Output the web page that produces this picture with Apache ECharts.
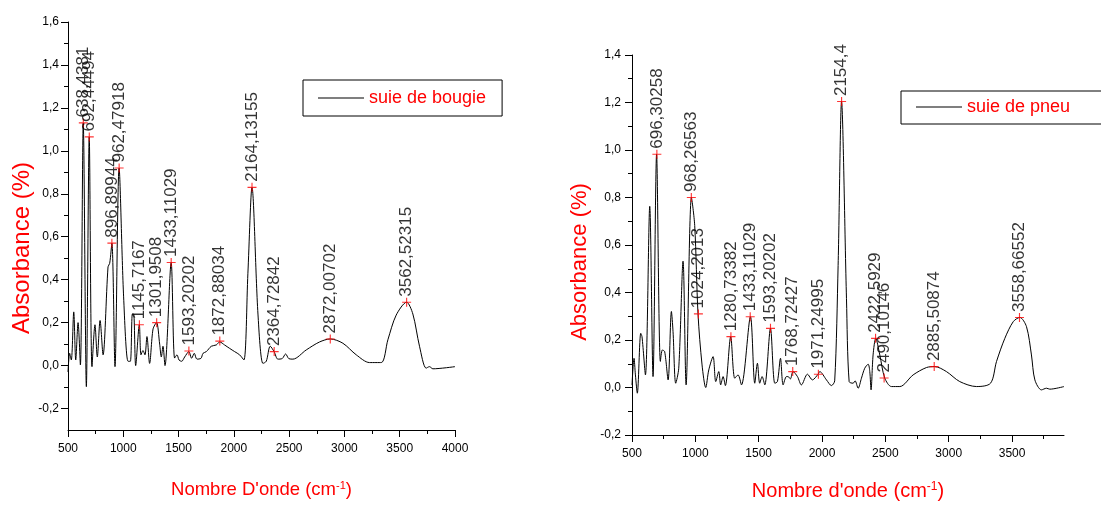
<!DOCTYPE html>
<html><head><meta charset="utf-8">
<script src="https://cdn.jsdelivr.net/npm/echarts@6/dist/echarts.min.js"></script>
<style>html,body{margin:0;padding:0;background:#fff}#c{width:1101px;height:506px}</style>
</head><body><div id="c"></div>
<script>
// ---------- Left spectrum: suie de bougie ----------
const leftWavenumber = [500,515,530,552,570,591,612,638,666,692,717,744,765,790,817,862,877,897,925,962,1003,1043,1064,1082,1094,1112,1145,1160,1178,1196,1214,1238,1269,1301,1329,1344,1359,1377,1433,1464,1486,1504,1528,1555,1593,1618,1642,1666,1703,1721,1751,1796,1841,1872,1916,1962,2007,2052,2091,2127,2164,2218,2263,2293,2329,2364,2398,2438,2468,2498,2534,2655,2775,2872,2986,3107,3227,3333,3393,3468,3562,3619,3679,3739,3769,3800,4000];
const leftAbsorbance = [-0.03,0.057,0.026,0.25,0.026,0.2,0.003,1.13,-0.098,1.065,-0.005,0.19,0.04,0.21,0.05,0.46,0.476,0.57,-0.005,0.92,0.32,0.02,0.02,0.24,0.24,0.0,0.19,0.05,0.07,0.05,0.135,0.01,0.17,0.2,0.1,0.04,0.09,0.0,0.48,0.035,0.05,0.026,0.02,0.04,0.065,0.034,0.057,0.03,0.034,0.057,0.065,0.09,0.096,0.11,0.096,0.08,0.065,0.05,0.026,0.43,0.83,0.24,0.01,0.02,0.09,0.065,0.03,0.033,0.054,0.032,0.03,0.073,0.11,0.124,0.104,0.05,0.014,0.014,0.12,0.235,0.295,0.24,0.09,-0.012,-0.005,-0.015,-0.005];
const leftPeakX = [638.4381,692.44494,896.89944,962.47918,1145.7167,1301.9508,1433.11029,1593.20202,1872.88034,2164.13155,2364.72842,2872.00702,3562.52315];
const leftPeakY = [1.13,1.065,0.57,0.92,0.19,0.2,0.48,0.068,0.114,0.83,0.065,0.124,0.295];
const leftPeakLabels = ['638,4381','692,44494','896,89944','962,47918','1145,7167','1301,9508','1433,11029','1593,20202','1872,88034','2164,13155','2364,72842','2872,00702','3562,52315'];

// ---------- Right spectrum: suie de pneu ----------
const rightWavenumber = [500,516,527,542,569,579,606,640,666,694,724,740,758,785,811,824,845,869,903,927,969,995,1021,1053,1082,1106,1140,1161,1185,1200,1219,1237,1279,1311,1337,1364,1435,1469,1490,1508,1527,1548,1593,1627,1648,1672,1693,1719,1732,1750,1771,1806,1837,1885,1924,1969,1982,2035,2074,2100,2127,2154,2193,2214,2245,2261,2285,2311,2337,2364,2377,2387,2403,2424,2456,2495,2548,2614,2719,2824,2890,2982,3087,3219,3330,3377,3443,3509,3561,3614,3653,3680,3732,3772,3798,3910];
const rightAbsorbance = [0.01,0.123,0.053,-0.024,0.228,0.214,0.053,0.763,0.046,0.982,0.11,0.158,0.151,0.032,0.32,0.235,0.018,0.081,0.532,0.011,0.80,0.682,0.31,0.095,0.0,0.074,0.13,0.025,0.067,0.011,0.046,0.008,0.214,0.039,0.053,0.011,0.298,0.018,0.102,0.018,0.046,0.011,0.249,0.018,0.025,0.123,0.011,0.046,0.046,0.036,0.067,0.046,0.011,0.056,0.032,0.056,0.067,0.032,0.008,0.028,0.514,1.204,0.374,0.025,0.018,0.028,-0.003,0.039,0.081,0.098,0.067,-0.01,0.137,0.207,0.137,0.04,0.004,0.004,0.053,0.084,0.088,0.067,0.025,0.004,0.018,0.109,0.207,0.277,0.295,0.256,0.137,0.032,-0.01,-0.003,-0.007,0.004];
const rightPeakX = [696.30258,968.26563,1024.2013,1280.73382,1433.11029,1593.20202,1768.72427,1971.24995,2154.4,2422.5929,2490.10146,2885.50874,3558.66552];
const rightPeakY = [0.982,0.80,0.31,0.214,0.298,0.249,0.067,0.056,1.204,0.207,0.04,0.088,0.295];
const rightPeakLabels = ['696,30258','968,26563','1024,2013','1280,73382','1433,11029','1593,20202','1768,72427','1971,24995','2154,4','2422,5929','2490,10146','2885,50874','3558,66552'];

// ---------- Tick values ----------
const leftXTicks = [500,1000,1500,2000,2500,3000,3500,4000];
const leftXMinor = [750,1250,1750,2250,2750,3250,3750];
const leftYTicks = [-0.2,0,0.2,0.4,0.6,0.8,1.0,1.2,1.4,1.6];
const leftYMinor = [-0.1,0.1,0.3,0.5,0.7,0.9,1.1,1.3,1.5];
const rightXTicks = [500,1000,1500,2000,2500,3000,3500];
const rightXMinor = [750,1250,1750,2250,2750,3250,3750];
const rightYTicks = [-0.2,0,0.2,0.4,0.6,0.8,1.0,1.2,1.4];
const rightYMinor = [-0.1,0.1,0.3,0.5,0.7,0.9,1.1,1.3];

const FONT = '"Liberation Sans", Arial, sans-serif';
const RED = '#ff0000';
const fmtY = v => Number(v).toFixed(1).replace('.', ',');
const fmtX = v => String(Math.round(v));
const zip = (a, b) => a.map((x, i) => [x, b[i]]);
const peaks = (xs, ys, ls) => xs.map((x, i) => ({ value: [x, ys[i]], name: ls[i] }));
const PLUS = 'path://M0,3.5L8,3.5L8,4.5L0,4.5Z M3.5,0L4.5,0L4.5,8L3.5,8Z';

function mainX(gi, min, max, ticks, name, gap, size) {
  return {
    type: 'value', gridIndex: gi, min, max, position: 'bottom',
    axisLine: { show: true, onZero: false, lineStyle: { color: '#000', width: 1 } },
    axisTick: { show: true, length: 7, customValues: ticks, lineStyle: { color: '#000' } },
    axisLabel: { show: true, customValues: ticks, margin: 13, fontSize: 12, fontFamily: FONT, color: '#000', formatter: fmtX },
    splitLine: { show: false },
    name, nameLocation: 'middle', nameGap: gap,
    nameTextStyle: { fontSize: size, color: RED, fontFamily: FONT,
      rich: { sup: { fontSize: Math.round(size * 0.6), color: RED, fontFamily: FONT, verticalAlign: 'top', lineHeight: size } } }
  };
}
function minorX(gi, min, max, ticks) {
  return { type: 'value', gridIndex: gi, min, max, position: 'bottom',
    axisLine: { show: false, onZero: false }, axisLabel: { show: false }, splitLine: { show: false },
    axisTick: { show: true, length: 4, customValues: ticks, lineStyle: { color: '#000' } } };
}
function mainY(gi, min, max, ticks, margin) {
  return {
    type: 'value', gridIndex: gi, min, max, position: 'left',
    axisLine: { show: true, onZero: false, lineStyle: { color: '#000', width: 1 } },
    axisTick: { show: true, length: 7, customValues: ticks, lineStyle: { color: '#000' } },
    axisLabel: { show: true, customValues: ticks, margin, fontSize: 12, fontFamily: FONT, color: '#000', formatter: fmtY },
    splitLine: { show: false }
  };
}
function minorY(gi, min, max, ticks) {
  return { type: 'value', gridIndex: gi, min, max, position: 'left',
    axisLine: { show: false, onZero: false }, axisLabel: { show: false }, splitLine: { show: false },
    axisTick: { show: true, length: 4, customValues: ticks, lineStyle: { color: '#000' } } };
}
function peakSeries(xi, yi, data) {
  return {
    type: 'scatter', xAxisIndex: xi, yAxisIndex: yi, data, symbol: PLUS, symbolSize: 9,
    itemStyle: { color: RED }, silent: true, z: 4, clip: false,
    label: { show: true, position: 'top', distance: 1, rotate: 90, align: 'left', verticalAlign: 'middle',
      formatter: '{b}', fontSize: 17, fontFamily: FONT, color: '#000' }
  };
}
function legendBox(name, left, top, padding) {
  return {
    data: [{ name, icon: 'rect' }], left, top, orient: 'horizontal', padding,
    borderColor: '#000', borderWidth: 1, itemWidth: 46, itemHeight: 1.2,
    itemStyle: { color: '#000' },
    textStyle: { fontSize: 18, color: RED, fontFamily: FONT, lineHeight: 20 }
  };
}

const chart = echarts.init(document.getElementById('c'), null, { renderer: 'canvas' });
chart.setOption({
  backgroundColor: '#fff',
  animation: false,
  grid: [
    { left: 68, top: 22, width: 387, height: 408 },
    { left: 632, top: 55, width: 432, height: 382 }
  ],
  xAxis: [
    mainX(0, 500, 4000, leftXTicks, "Nombre D'onde (cm{sup|-1})", 50, 18.5),
    mainX(1, 500, 3910, rightXTicks, "Nombre d'onde (cm{sup|-1})", 46, 20),
    minorX(0, 500, 4000, leftXMinor),
    minorX(1, 500, 3910, rightXMinor)
  ],
  yAxis: [
    mainY(0, -0.3, 1.6, leftYTicks, 9),
    mainY(1, -0.2, 1.4, rightYTicks, 11),
    minorY(0, -0.3, 1.6, leftYMinor),
    minorY(1, -0.2, 1.4, rightYMinor)
  ],
  legend: [
    legendBox('suie de bougie', 303, 80, [8, 16, 8, 15]),
    legendBox('suie de pneu', 901, 91, [6, 60, 7, 15])
  ],
  graphic: [
    { type: 'text', x: 22, y: 248, rotation: Math.PI / 2,
      style: { text: 'Absorbance (%)', fontSize: 24, fontFamily: FONT, fill: RED, align: 'center', verticalAlign: 'middle' } },
    { type: 'text', x: 580, y: 262, rotation: Math.PI / 2,
      style: { text: 'Absorbance (%)', fontSize: 22, fontFamily: FONT, fill: RED, align: 'center', verticalAlign: 'middle' } }
  ],
  series: [
    { name: 'suie de bougie', type: 'line', xAxisIndex: 0, yAxisIndex: 0, data: zip(leftWavenumber, leftAbsorbance),
      symbol: 'none', smooth: 0.3, lineStyle: { color: '#000', width: 1 }, itemStyle: { color: '#000' }, z: 2 },
    peakSeries(0, 0, peaks(leftPeakX, leftPeakY, leftPeakLabels)),
    { name: 'suie de pneu', type: 'line', xAxisIndex: 1, yAxisIndex: 1, data: zip(rightWavenumber, rightAbsorbance),
      symbol: 'none', smooth: 0.3, lineStyle: { color: '#000', width: 1 }, itemStyle: { color: '#000' }, z: 2 },
    peakSeries(1, 1, peaks(rightPeakX, rightPeakY, rightPeakLabels))
  ]
});
</script>
</body></html>
